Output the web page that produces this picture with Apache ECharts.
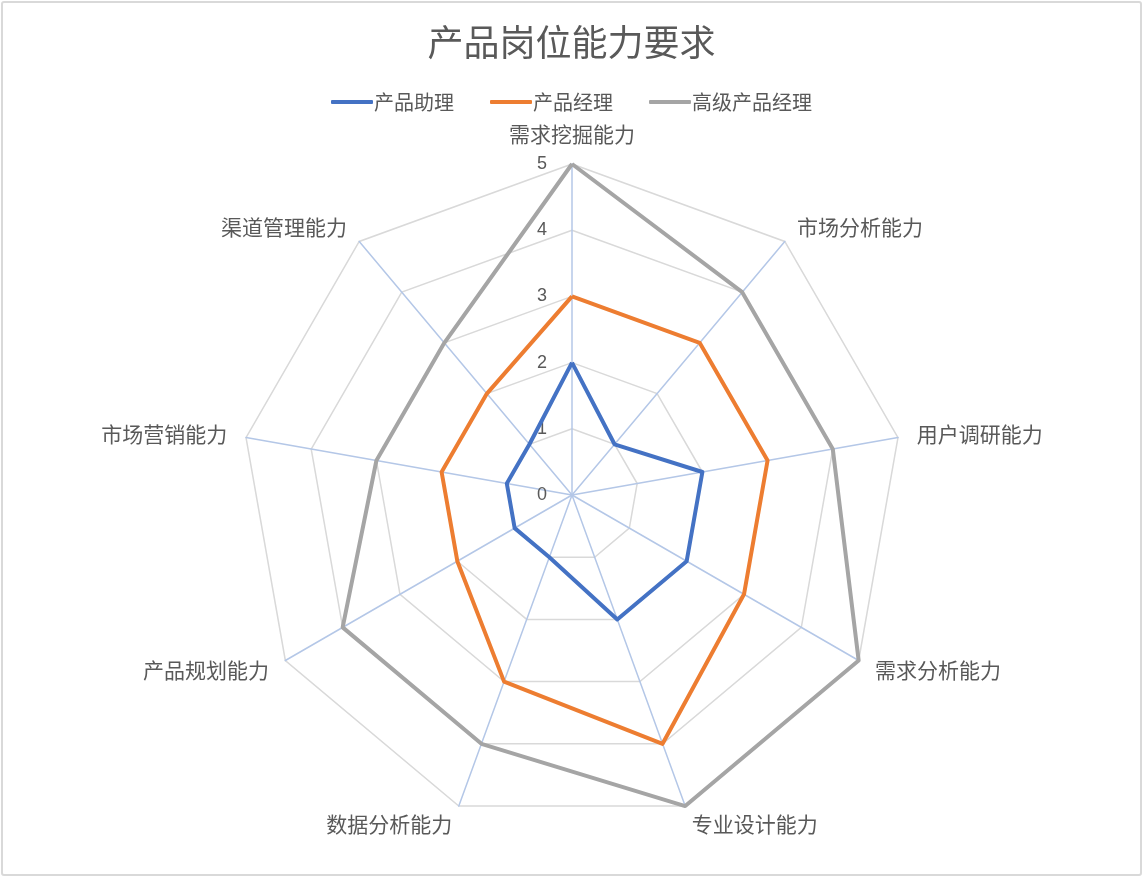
<!DOCTYPE html>
<html>
<head>
<meta charset="utf-8">
<script src="https://cdn.jsdelivr.net/npm/echarts@6/dist/echarts.min.js"></script>
<style>
html,body{margin:0;padding:0;background:#fff;}
#chart{position:absolute;left:1px;top:1px;width:1141px;height:875px;border:2px solid #d9d9d9;border-radius:3px;box-sizing:border-box;}
</style>
</head>
<body>
<div id="chart"></div>
<script>
// 能力维度（从正上方顺时针）
let abilities=["需求挖掘能力","市场分析能力","用户调研能力","需求分析能力","专业设计能力","数据分析能力","产品规划能力","市场营销能力","渠道管理能力"];
let seriesNames=["产品助理","产品经理","高级产品经理"];
let assistant=[2,1,2,2,2,1,1,1,1];
let manager=[3,3,3,3,4,3,2,2,2];
let senior=[5,4,4,5,5,4,4,3,3];
let colors=["#4472c4","#ed7d31","#a5a5a5"];
let maxValue=5;

let cjk="'Noto Sans CJK SC', sans-serif";
let textColor="#595959";

// echarts 雷达图是逆时针排的，这里把顺序翻过来让它顺时针
let order=[0];
for(let i=abilities.length-1;i>0;i--){
	order.push(i);
}
function reorder(arr){
	return order.map(function(i){return arr[i];});
}

let radar_echart=echarts.init(document.getElementById('chart'));

let indicators=reorder(abilities).map(function(name,i){
	let ind={name:name,max:maxValue,min:0};
	if(i==0){
		ind.axisLabel={
			show:true,
			color:textColor,
			fontSize:18,
			fontFamily:"'Liberation Sans', Arial, sans-serif",
			margin:25,
		};
	}
	return ind;
});

let seriesData=[assistant,manager,senior].map(function(values,i){
	return {
		name:seriesNames[i],
		value:reorder(values),
		lineStyle:{color:colors[i],width:4},
		itemStyle:{color:colors[i]},
	};
});

radar_echart.setOption({
	animation:false,
	title:{
		text:"产品岗位能力要求",
		left:"center",
		top:16,
		textStyle:{
			fontFamily:cjk,
			fontSize:36,
			fontWeight:"normal",
			color:textColor,
		},
	},
	color:colors,
	legend:{
		data:seriesNames,
		top:84,
		left:"center",
		itemWidth:42,
		itemHeight:4,
		itemGap:36,
		icon:"roundRect",
		textStyle:{
			fontFamily:cjk,
			fontSize:20,
			color:textColor,
			padding:[0,0,0,-4],
		},
	},
	radar:{
		center:[569,492],
		radius:331,
		startAngle:90,
		splitNumber:5,
		shape:"polygon",
		indicator:indicators,
		nameGap:19,
		axisName:{
			fontFamily:cjk,
			fontSize:21,
			color:textColor,
		},
		splitArea:{show:false},
		splitLine:{
			lineStyle:{color:"#d9d9d9",width:1.5},
		},
		axisLine:{
			lineStyle:{color:"#b4c7e7",width:1.5},
		},
		axisTick:{show:false},
		axisLabel:{show:false},
	},
	series:[{
		type:"radar",
		symbol:"none",
		data:seriesData,
	}],
});
</script>
</body>
</html>
